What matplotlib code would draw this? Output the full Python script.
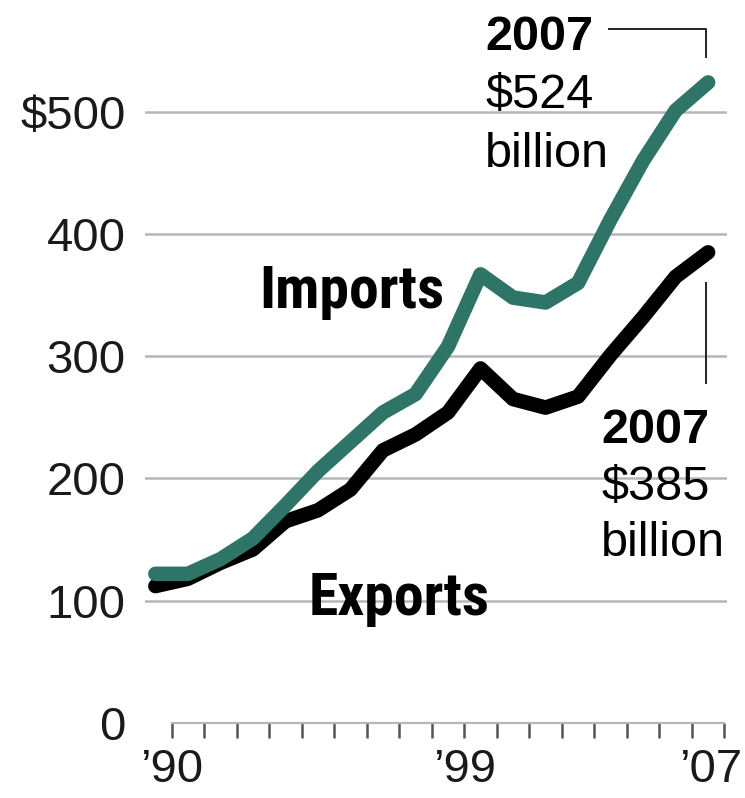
import numpy as np
import matplotlib
matplotlib.use("Agg")
import matplotlib.pyplot as plt
from matplotlib import font_manager
from matplotlib.transforms import ScaledTranslation

# ---- data ----
years = list(range(1990, 2008))
imports = [122, 122, 134, 151, 178, 206, 230, 254, 269, 308, 367, 348, 344, 360, 412, 460, 501, 524]
exports = [112, 118, 131, 142, 165, 174, 191, 223, 236, 254, 290, 265, 258, 267, 301, 332, 365, 385]
y_ticks = [0, 100, 200, 300, 400, 500]
y_labels = ["0", "100", "200", "300", "400", "$500"]
x_label_map = {1990: "\u201990", 1999: "\u201999", 2007: "\u201907"}

GREEN = "#2f7567"
GRID = "#b4b7bd"

available = {f.name for f in font_manager.fontManager.ttflist}
cond = "DejaVu Sans"
for cand in ["Liberation Sans Narrow", "DejaVu Sans Condensed", "Roboto Condensed", "Open Sans Condensed"]:
    if cand in available:
        cond = cand
        break
plt.rcParams["font.family"] = ["Liberation Sans", "DejaVu Sans"]

fig = plt.figure(figsize=(7.45, 7.98), dpi=100)
ax = fig.add_axes([0.1946, 0.094, 0.7812, 0.8885])
ax.set_xlim(1990 - 0.32, 2007 + 0.58)
ax.set_ylim(0, 580)

for s in ["top", "right", "left"]:
    ax.spines[s].set_visible(False)
ax.spines["bottom"].set_bounds(1990.5, 2007.5)
ax.spines["bottom"].set_color(GRID)
ax.spines["bottom"].set_linewidth(1.6)

for yv in y_ticks[1:]:
    ax.axhline(yv, color=GRID, lw=1.8, zorder=1)

ax.set_yticks(y_ticks)
ax.set_yticklabels(y_labels, fontsize=34, color="#1a1a1a")
ax.tick_params(axis="y", length=0, pad=14)

xt = [y + 0.5 for y in years]
ax.set_xticks(xt)
ax.set_xticklabels([x_label_map.get(y, "") for y in years], fontsize=34, color="#1a1a1a")
ax.tick_params(axis="x", direction="out", length=11, width=1.8, color="#555555", pad=7)
lbls = ax.get_xticklabels()
lbls[-1].set_transform(lbls[-1].get_transform() + ScaledTranslation(-14 / 100, 0, fig.dpi_scale_trans))

ax.plot(years, exports, color="black", lw=10.5, solid_capstyle="round", solid_joinstyle="round", zorder=3)
ax.plot(years, imports, color=GREEN, lw=10.5, solid_capstyle="round", solid_joinstyle="round", zorder=4)

# series labels
ax.text(1996.03, 339.6, "Imports", fontsize=43, fontweight="bold", family=[cond, "DejaVu Sans"],
        ha="center", va="baseline", color="black", zorder=5)
ax.text(1997.49, 88.4, "Exports", fontsize=43, fontweight="bold", family=[cond, "DejaVu Sans"],
        ha="center", va="baseline", color="black", zorder=5)

# top annotation (imports)
ax.text(2000.14, 550.7, "2007", fontsize=35, fontweight="bold", ha="left", va="baseline", zorder=5)
ax.text(2000.14, 503.3, "$524", fontsize=35, ha="left", va="baseline", zorder=5)
ax.text(2000.14, 455.0, "billion", fontsize=35, ha="left", va="baseline", zorder=5)
ax.plot([2003.95, 2006.94, 2006.94], [568, 568, 545], color="#222222", lw=1.4, clip_on=False, zorder=5)

# lower annotation (exports)
ax.plot([2006.94, 2006.94], [360, 278], color="#222222", lw=1.4, zorder=5)
ax.text(2003.71, 229, "2007", fontsize=35, fontweight="bold", ha="left", va="baseline", zorder=5)
ax.text(2003.71, 182.5, "$385", fontsize=35, ha="left", va="baseline", zorder=5)
ax.text(2003.71, 136.7, "billion", fontsize=35, ha="left", va="baseline", zorder=5)

fig.savefig("out.png", dpi=100)
